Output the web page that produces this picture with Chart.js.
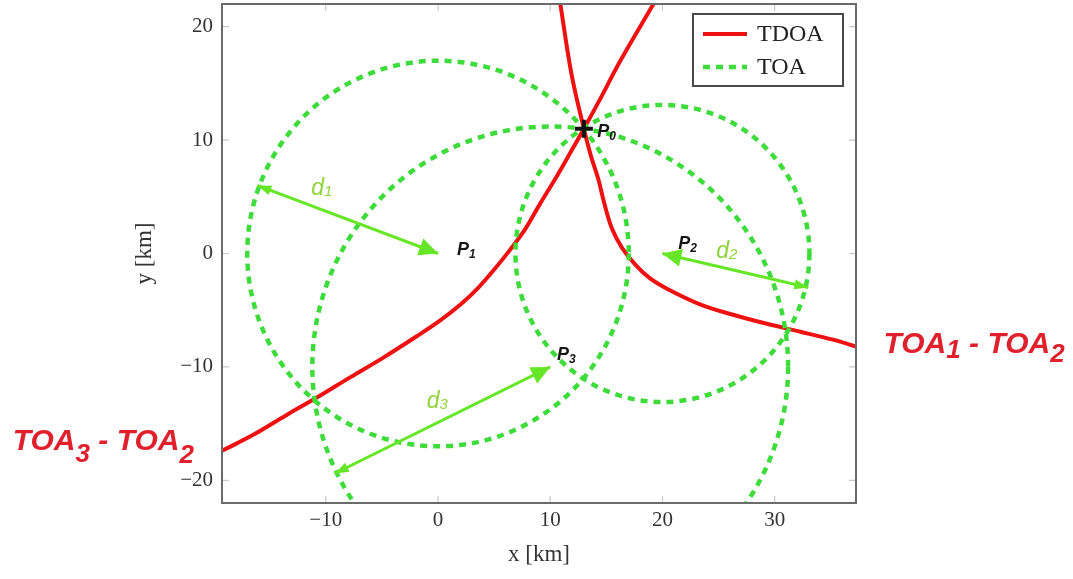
<!DOCTYPE html>
<html>
<head>
<meta charset="utf-8">
<title>TDOA / TOA</title>
<script src="https://cdn.jsdelivr.net/npm/chart.js@4.4.0/dist/chart.umd.min.js"></script>
<style>
    html, body { margin: 0; padding: 0; background: #fff; }
</style>
</head>
<body>
<canvas id="tdoaChart" width="1073" height="579"></canvas>
<script>
// tick values
const xTickValues = [-10, 0, 10, 20, 30];
const yTickValues = [-20, -10, 0, 10, 20];

// TDOA curve TOA1 - TOA2
const tdoa12X = [10.9, 11.9, 13.0, 13.6, 14.3, 14.8, 15.5, 16.4, 17.6, 18.9, 20.4, 23.4, 26.3, 29.3, 32.3, 35.2, 37.25];
const tdoa12Y = [22.0, 15.8, 11.0, 8.7, 6.5, 4.5, 2.2, 0.5, -1.0, -2.2, -3.1, -4.5, -5.4, -6.2, -6.9, -7.6, -8.2];

// TDOA curve TOA3 - TOA2
const tdoa32X = [19.2, 16.2, 14.6, 13.0, 11.8, 10.4, 9.1, 7.8, 6.4, 5.1, 3.6, 2.0, 0.2, -1.9, -4.9, -7.8, -10.8, -13.6, -16.3, -19.25];
const tdoa32Y = [22.0, 16.9, 13.9, 11.0, 8.9, 6.5, 4.4, 2.2, 0.3, -1.3, -3.0, -4.5, -5.9, -7.3, -9.2, -10.9, -12.7, -14.3, -15.9, -17.4];

// stations and TOA ranges
const stationNames = ['1', '2', '3'];
const stationX = [0, 20, 10];
const stationY = [0, 0, -10];
const toaRadii = [17.0, 13.1, 21.2];

// end of each range arrow on its circle
const rangeEndX = [-16.1, 33.0, -9.2];
const rangeEndY = [6.0, -3.0, -19.4];

// target
const targetX = [13];
const targetY = [11];

const serif = '"Liberation Serif", "DejaVu Serif", serif';
const sans = '"Liberation Sans", Arial, sans-serif';

function pairs(xs, ys) {
    return xs.map(function (v, i) { return { x: v, y: ys[i] }; });
}

function fmtTick(v) {
    return v < 0 ? '\u2212' + Math.abs(v) : String(v);
}

// draw a string made of pieces (main text + subscripts)
function drawPieces(ctx, pieces, x, y) {
    let cx = x;
    pieces.forEach(function (p) {
        ctx.font = p.font;
        ctx.fillText(p.t, cx, y + (p.dy || 0));
        cx += ctx.measureText(p.t).width;
    });
}

function drawHead(ctx, from, tip, len, half) {
    const a = Math.atan2(tip.y - from.y, tip.x - from.x);
    const bx = tip.x - len * Math.cos(a);
    const by = tip.y - len * Math.sin(a);
    ctx.beginPath();
    ctx.moveTo(tip.x, tip.y);
    ctx.lineTo(bx + half * Math.sin(a), by - half * Math.cos(a));
    ctx.lineTo(bx - half * Math.sin(a), by + half * Math.cos(a));
    ctx.closePath();
    ctx.fill();
}

// inner tick marks + frame
const frameTicks = {
    id: 'frameTicks',
    beforeDatasetsDraw(chart) {
        const { ctx, chartArea: a, scales } = chart;
        ctx.save();
        ctx.strokeStyle = '#c8c8c8';
        ctx.lineWidth = 1.2;
        ctx.beginPath();
        scales.x.ticks.forEach(function (t) {
            const px = scales.x.getPixelForValue(t.value);
            ctx.moveTo(px, a.bottom); ctx.lineTo(px, a.bottom - 7);
            ctx.moveTo(px, a.top); ctx.lineTo(px, a.top + 7);
        });
        scales.y.ticks.forEach(function (t) {
            const py = scales.y.getPixelForValue(t.value);
            ctx.moveTo(a.left, py); ctx.lineTo(a.left + 7, py);
            ctx.moveTo(a.right, py); ctx.lineTo(a.right - 7, py);
        });
        ctx.stroke();
        ctx.restore();
    },
    afterDatasetsDraw(chart) {
        const { ctx, chartArea: a } = chart;
        ctx.save();
        ctx.strokeStyle = '#6a6a6a';
        ctx.lineWidth = 2;
        ctx.strokeRect(a.left, a.top, a.right - a.left, a.bottom - a.top);
        ctx.restore();
    }
};

// TOA circles, range arrows and target cross
const toaDraw = {
    id: 'toaDraw',
    afterDatasetDraw(chart, args) {
        const ds = chart.data.datasets[args.index];
        const { ctx, chartArea: a, scales: { x, y } } = chart;
        if (ds.radii) {
            ctx.save();
            ctx.beginPath();
            ctx.rect(a.left, a.top, a.right - a.left, a.bottom - a.top);
            ctx.clip();
            ctx.strokeStyle = ds.borderColor;
            ctx.lineWidth = ds.borderWidth;
            ctx.setLineDash(ds.borderDash);
            ds.data.forEach(function (p, i) {
                const cx = x.getPixelForValue(p.x);
                const cy = y.getPixelForValue(p.y);
                const rx = Math.abs(x.getPixelForValue(p.x + ds.radii[i]) - cx);
                const ry = Math.abs(y.getPixelForValue(p.y + ds.radii[i]) - cy);
                ctx.beginPath();
                ctx.ellipse(cx, cy, rx, ry, 0, 0, Math.PI * 2);
                ctx.stroke();
            });
            ctx.restore();
        }
        if (ds.arrow) {
            const pts = args.meta.data;
            ctx.save();
            ctx.fillStyle = ds.borderColor;
            drawHead(ctx, pts[1], pts[0], 19, 9);
            drawHead(ctx, pts[0], pts[1], 14, 5);
            ctx.restore();
        }
        if (ds.crossSize) {
            ctx.save();
            ctx.strokeStyle = ds.borderColor;
            ctx.lineWidth = ds.borderWidth;
            args.meta.data.forEach(function (pt) {
                const s = ds.crossSize;
                ctx.beginPath();
                ctx.moveTo(pt.x - s, pt.y); ctx.lineTo(pt.x + s, pt.y);
                ctx.moveTo(pt.x, pt.y - s); ctx.lineTo(pt.x, pt.y + s);
                ctx.stroke();
            });
            ctx.restore();
        }
    }
};

// text labels
const textLabels = {
    id: 'textLabels',
    afterDatasetsDraw(chart) {
        const { ctx, scales: { x, y } } = chart;
        const px = function (v) { return x.getPixelForValue(v); };
        const py = function (v) { return y.getPixelForValue(v); };
        ctx.save();
        ctx.textBaseline = 'alphabetic';
        ctx.textAlign = 'left';

        // station names
        const pMain = 'italic bold 18px ' + sans;
        const pSub = 'italic bold 12px ' + sans;
        ctx.fillStyle = '#151515';
        const nameX = [14.2, 1.7, 21.4, 10.6];
        const nameY = [10.3, -0.1, 0.4, -9.4];
        ['0'].concat(stationNames).forEach(function (s, i) {
            drawPieces(ctx, [{ t: 'P', font: pMain }, { t: s, font: pSub, dy: 3 }], px(nameX[i]), py(nameY[i]));
        });

        // range names
        const dMain = 'italic 23px ' + sans;
        const dSub = 'italic 15px ' + sans;
        ctx.fillStyle = '#8fd43a';
        const dX = [-11.3, 24.8, -1.0];
        const dY = [5.2, -0.4, -13.6];
        stationNames.forEach(function (s, i) {
            drawPieces(ctx, [{ t: 'd', font: dMain }, { t: s, font: dSub, dy: 1 }], px(dX[i]), py(dY[i]));
        });

        // TDOA curve names
        const rMain = 'italic bold 30px ' + sans;
        const rSub = 'italic bold 26px ' + sans;
        ctx.fillStyle = '#e0202c';
        drawPieces(ctx, [
            { t: 'TOA', font: rMain }, { t: '1', font: rSub, dy: 5 },
            { t: ' - TOA', font: rMain }, { t: '2', font: rSub, dy: 9 }
        ], px(39.7), py(-8.8));
        drawPieces(ctx, [
            { t: 'TOA', font: rMain }, { t: '3', font: rSub, dy: 12 },
            { t: ' - TOA', font: rMain }, { t: '2', font: rSub, dy: 13 }
        ], px(-37.9), py(-17.35));
        ctx.restore();
    }
};

// legend box in the upper right corner
const boxLegend = {
    id: 'boxLegend',
    afterDraw(chart) {
        const ctx = chart.ctx;
        const a = chart.chartArea;
        const entries = chart.data.datasets.filter(function (d) { return d.inLegend; });
        const left = a.right - 163, top = a.top + 10, w = 150, h = 72;
        ctx.save();
        ctx.fillStyle = '#fff';
        ctx.fillRect(left, top, w, h);
        ctx.strokeStyle = '#4a4a4a';
        ctx.lineWidth = 2;
        ctx.strokeRect(left, top, w, h);
        ctx.font = '24px ' + serif;
        ctx.textBaseline = 'middle';
        entries.forEach(function (d, i) {
            const ly = top + 20 + i * 33;
            ctx.strokeStyle = d.borderColor;
            ctx.lineWidth = d.borderWidth;
            ctx.setLineDash(d.borderDash || []);
            ctx.beginPath();
            ctx.moveTo(left + 10, ly);
            ctx.lineTo(left + 54, ly);
            ctx.stroke();
            ctx.setLineDash([]);
            ctx.fillStyle = '#222';
            ctx.fillText(d.label, left + 64, ly + 1);
        });
        ctx.restore();
    }
};

function createChart() {
    const arrowColor = '#66e626';
    const datasets = [
        {
            label: 'TDOA', inLegend: true,
            data: pairs(tdoa12X, tdoa12Y),
            showLine: true, borderColor: '#ee1111', borderWidth: 4,
            tension: 0.35, order: 5
        },
        {
            label: 'TDOA',
            data: pairs(tdoa32X, tdoa32Y),
            showLine: true, borderColor: '#ee1111', borderWidth: 4,
            tension: 0.35, order: 5
        },
        {
            label: 'TOA', inLegend: true,
            data: pairs(stationX, stationY),
            radii: toaRadii,
            showLine: false, borderColor: '#3ddc3a', borderWidth: 4.5, borderDash: [7, 6],
            order: 4
        }
    ];
    stationX.forEach(function (sx, i) {
        datasets.push({
            label: 'd' + stationNames[i], arrow: true,
            data: [{ x: sx, y: stationY[i] }, { x: rangeEndX[i], y: rangeEndY[i] }],
            showLine: true, borderColor: arrowColor, borderWidth: 3,
            order: 2
        });
    });
    datasets.push({
        label: 'P0',
        data: pairs(targetX, targetY),
        crossSize: 9, borderWidth: 4,
        borderColor: '#111', order: 1
    });

    const tickFont = { family: serif, size: 21 };
    const titleFont = { family: serif, size: 23 };

    const ctx = document.getElementById('tdoaChart').getContext('2d');
    new Chart(ctx, {
        type: 'scatter',
        data: { datasets: datasets },
        options: {
            responsive: false,
            animation: false,
            events: [],
            elements: { point: { radius: 0, hoverRadius: 0, borderWidth: 0 } },
            layout: { padding: { left: 127, right: 217, top: 4, bottom: 0 } },
            plugins: {
                legend: { display: false },
                tooltip: { enabled: false }
            },
            scales: {
                x: {
                    type: 'linear', min: -19.25, max: 37.25,
                    grid: { display: false, drawTicks: false },
                    border: { display: false },
                    afterBuildTicks: function (s) { s.ticks = xTickValues.map(function (v) { return { value: v }; }); },
                    afterFit: function (s) { s.height = 76; s.paddingLeft = 0; s.paddingRight = 0; },
                    ticks: { font: tickFont, color: '#333', padding: 5, maxRotation: 0, callback: fmtTick },
                    title: { display: true, text: 'x [km]', font: titleFont, color: '#333', padding: { top: 0, bottom: 10 } }
                },
                y: {
                    type: 'linear', min: -22, max: 22,
                    grid: { display: false, drawTicks: false },
                    border: { display: false },
                    afterBuildTicks: function (s) { s.ticks = yTickValues.map(function (v) { return { value: v }; }); },
                    afterFit: function (s) { s.width = 95; s.paddingTop = 0; s.paddingBottom = 0; },
                    ticks: { font: tickFont, color: '#333', padding: 9, callback: fmtTick },
                    title: { display: true, text: 'y [km]', font: titleFont, color: '#333', padding: { top: 4, bottom: 0 } }
                }
            }
        },
        plugins: [frameTicks, toaDraw, textLabels, boxLegend]
    });
}

document.addEventListener('DOMContentLoaded', function () {
    createChart();
});
</script>
</body>
</html>
